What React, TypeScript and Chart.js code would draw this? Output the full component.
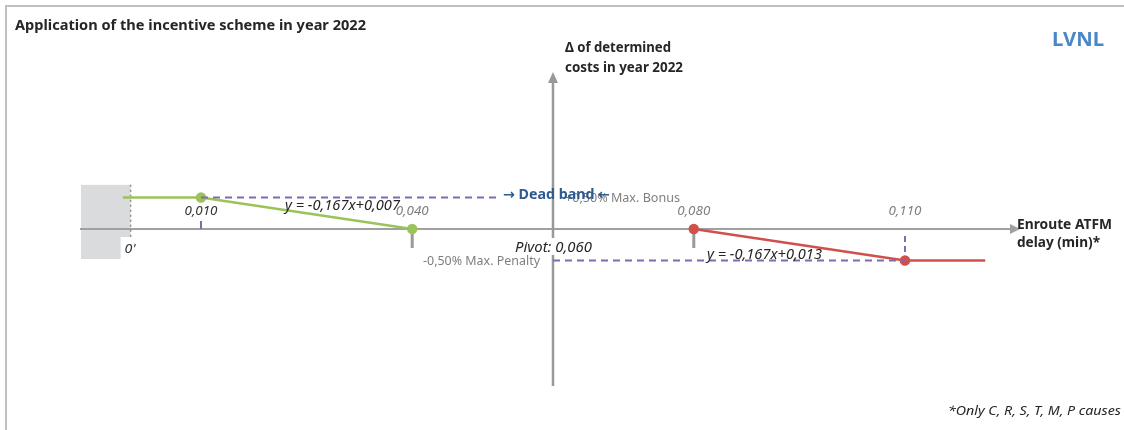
import React, { useEffect, useRef } from "react";
import { Chart, registerables } from "chart.js";

Chart.register(...registerables);

// ---- data ----
const greenX = [-0.0011, 0.01, 0.04];
const greenY = [0.5, 0.5, 0];
const redX = [0.08, 0.11, 0.1214];
const redY = [0, -0.5, -0.5];
const bonusLineX = [0.01, 0.0525];
const bonusLineY = [0.5, 0.5];
const penaltyLineX = [0.06, 0.11];
const penaltyLineY = [-0.5, -0.5];
const tickValues = [0.01, 0.04, 0.08, 0.11];
const tickLabels = ["0,010", "0,040", "0,080", "0,110"];
const pivotValue = 0.06;
const title = "Application of the incentive scheme in year 2022";
const yTitle = ["\u0394 of determined", "costs in year 2022"];
const xTitle = ["Enroute ATFM", "delay (min)*"];
const formulaGreen = "y = -0,167x+0,007";
const formulaRed = "y = -0,167x+0,013";
const footnote = "*Only C, R, S, T, M, P causes";

const FONT = "'Noto Sans', 'DejaVu Sans', sans-serif";
const GREEN = "#9BC35A";
const RED = "#D0514B";
const PURPLE = "#8468B0";
const AXIS = "#A0A0A0";

// draws text stretched/compressed horizontally to exactly width w
function txt(ctx: CanvasRenderingContext2D, s: string, x: number, y: number, w: number, font: string, color: string, align: "left" | "center" | "right" = "left") {
  ctx.save();
  ctx.font = font;
  ctx.fillStyle = color;
  ctx.textAlign = "left";
  ctx.textBaseline = "middle";
  const mw = ctx.measureText(s).width;
  const left = align === "left" ? x : align === "center" ? x - w / 2 : x - w;
  ctx.translate(left, y);
  ctx.scale(w / mw, 1);
  ctx.fillText(s, 0, 0);
  ctx.restore();
}

const diagramPlugin = {
  id: "diagram",
  beforeDatasetsDraw(chart: any) {
    const ctx: CanvasRenderingContext2D = chart.ctx;
    const xs = chart.scales.x;
    const ys = chart.scales.y;
    const X = (v: number) => xs.getPixelForValue(v);
    const Y = (v: number) => ys.getPixelForValue(v);
    ctx.save();
    // frame
    ctx.strokeStyle = "#C0C0C0";
    ctx.lineWidth = 2;
    ctx.beginPath();
    ctx.moveTo(6, 430);
    ctx.lineTo(6, 6);
    ctx.lineTo(1124, 6);
    ctx.stroke();
    // grey box at origin
    ctx.fillStyle = "#DADBDD";
    ctx.fillRect(X(-0.00705), Y(0.7), X(0) - X(-0.00705), Y(-0.476) - Y(0.7));
    // x axis
    ctx.strokeStyle = AXIS;
    ctx.fillStyle = AXIS;
    ctx.lineWidth = 2;
    const y0 = Y(0);
    ctx.beginPath();
    ctx.moveTo(chart.chartArea.left, y0);
    ctx.lineTo(chart.chartArea.right - 6, y0);
    ctx.stroke();
    ctx.beginPath();
    ctx.moveTo(chart.chartArea.right, y0);
    ctx.lineTo(chart.chartArea.right - 10, y0 - 5);
    ctx.lineTo(chart.chartArea.right - 10, y0 + 5);
    ctx.closePath();
    ctx.fill();
    // y axis
    const xp = X(pivotValue);
    ctx.strokeStyle = "#999999";
    ctx.fillStyle = "#999999";
    ctx.lineWidth = 2.5;
    ctx.beginPath();
    ctx.moveTo(xp, chart.chartArea.bottom);
    ctx.lineTo(xp, chart.chartArea.top + 6);
    ctx.stroke();
    ctx.beginPath();
    ctx.moveTo(xp, chart.chartArea.top);
    ctx.lineTo(xp - 5, chart.chartArea.top + 11);
    ctx.lineTo(xp + 5, chart.chartArea.top + 11);
    ctx.closePath();
    ctx.fill();
    // dotted line at 0'
    ctx.strokeStyle = "#8A8A8A";
    ctx.lineWidth = 1.5;
    ctx.setLineDash([2, 3]);
    ctx.beginPath();
    ctx.moveTo(X(0), Y(0.7));
    ctx.lineTo(X(0), Y(-0.476));
    ctx.stroke();
    ctx.setLineDash([]);
    // white notch behind 0' label
    ctx.fillStyle = "#FFFFFF";
    ctx.fillRect(X(0) - 10, y0 + 8, 22, Y(-0.476) - y0 - 7);
    // grey ticks
    ctx.strokeStyle = "#9A9A9A";
    ctx.lineWidth = 3;
    [0.04, 0.08].forEach((v) => {
      ctx.beginPath();
      ctx.moveTo(X(v), y0);
      ctx.lineTo(X(v), y0 + 19);
      ctx.stroke();
    });
    // purple tick at 0,010
    ctx.strokeStyle = PURPLE;
    ctx.lineWidth = 2;
    ctx.beginPath();
    ctx.moveTo(X(0.01), y0 - 8);
    ctx.lineTo(X(0.01), y0);
    ctx.stroke();
    // purple vertical dashed at 0,110
    ctx.setLineDash([6, 4]);
    ctx.beginPath();
    ctx.moveTo(X(0.11), y0 + 7);
    ctx.lineTo(X(0.11), Y(-0.5));
    ctx.stroke();
    ctx.setLineDash([]);
    ctx.restore();
  },
  afterDatasetsDraw(chart: any) {
    const ctx: CanvasRenderingContext2D = chart.ctx;
    const xs = chart.scales.x;
    const ys = chart.scales.y;
    const X = (v: number) => xs.getPixelForValue(v);
    const Y = (v: number) => ys.getPixelForValue(v);
    const y0 = Y(0);
    const bold14 = `bold 14px ${FONT}`;
    txt(ctx, title, 15, 26, 351, bold14, "#262626");
    txt(ctx, yTitle[0], 565, 48, 106, bold14, "#262626");
    txt(ctx, yTitle[1], 565, 68, 118, bold14, "#262626");
    txt(ctx, "LVNL", 1052, 41, 52, `bold 19px ${FONT}`, "#4A86C8");
    txt(ctx, xTitle[0], 1017, 225, 95, bold14, "#262626");
    txt(ctx, xTitle[1], 1017, 243, 83, bold14, "#262626");
    txt(ctx, footnote, 1121, 411, 173, `italic 13px ${FONT}`, "#262626", "right");
    // tick labels
    tickLabels.forEach((l, i) => {
      const dark = i === 0;
      txt(ctx, l, X(tickValues[i]), y0 - 17, 33, `italic 12px ${FONT}`, dark ? "#333333" : "#7F7F7F", "center");
    });
    txt(ctx, "0'", X(0) - 6, y0 + 20, 11, `italic 13px ${FONT}`, "#333333");
    // formulas
    txt(ctx, formulaGreen, 285, Y(0.5) + 9, 115, `italic 14px ${FONT}`, "#262626");
    txt(ctx, formulaRed, 707, Y(-0.5) - 6, 115, `italic 14px ${FONT}`, "#262626");
    // max bonus / penalty
    txt(ctx, "+0,50% Max. Bonus", 565, Y(0.5) + 1, 115, `13px ${FONT}`, "#7F7F7F");
    txt(ctx, "-0,50% Max. Penalty", 423, Y(-0.5) + 1, 117, `13px ${FONT}`, "#7F7F7F");
    // pivot with white background
    ctx.save();
    ctx.fillStyle = "#FFFFFF";
    ctx.fillRect(X(pivotValue) - 5, y0 + 9, 12, 17);
    ctx.restore();
    txt(ctx, "Pivot: 0,060", 515, y0 + 19, 77, `italic 14px ${FONT}`, "#262626");
    // dead band
    txt(ctx, "\u2192 Dead band \u2190", 503, Y(0.5) - 2, 107, bold14, "#2E5A8E");
  },
};

export default function App() {
  const ref = useRef<HTMLCanvasElement | null>(null);
  useEffect(() => {
    if (!ref.current) return;
    const chart = new Chart(ref.current, {
      type: "scatter",
      data: {
        datasets: [
          {
            label: "bonus ref",
            data: bonusLineX.map((x, i) => ({ x, y: bonusLineY[i] })),
            showLine: true,
            borderColor: PURPLE,
            borderWidth: 2,
            borderDash: [7, 5],
            pointRadius: 0,
          },
          {
            label: "penalty ref",
            data: penaltyLineX.map((x, i) => ({ x, y: penaltyLineY[i] })),
            showLine: true,
            borderColor: PURPLE,
            borderWidth: 2,
            borderDash: [7, 5],
            pointRadius: 0,
          },
          {
            label: "bonus",
            data: greenX.map((x, i) => ({ x, y: greenY[i] })),
            showLine: true,
            borderColor: GREEN,
            backgroundColor: GREEN,
            borderWidth: 2.5,
            pointRadius: [0, 4, 4],
          },
          {
            label: "penalty",
            data: redX.map((x, i) => ({ x, y: redY[i] })),
            showLine: true,
            borderColor: RED,
            backgroundColor: RED,
            borderWidth: 2.5,
            pointRadius: [4, 4, 0],
          },
        ],
      },
      options: {
        responsive: false,
        animation: false,
        layout: { padding: { left: 80, right: 104, top: 72, bottom: 44 } },
        plugins: { legend: { display: false }, tooltip: { enabled: false } },
        scales: {
          x: { type: "linear", min: -0.00719, max: 0.12634, display: false },
          y: { type: "linear", min: -2.49, max: 2.49, display: false },
        },
      },
      plugins: [diagramPlugin],
    });
    return () => chart.destroy();
  }, []);
  return (
    <div style={{ position: "fixed", left: 0, top: 0, width: 1124, height: 430, background: "#fff" }}>
      <canvas ref={ref} width={1124} height={430} />
    </div>
  );
}
